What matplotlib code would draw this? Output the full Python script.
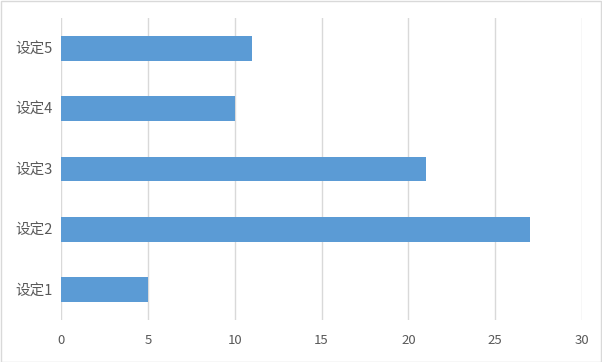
import matplotlib
matplotlib.use("Agg")
import matplotlib.pyplot as plt
from matplotlib.patches import Rectangle

plt.rcParams['font.family'] = ['Noto Sans CJK SC', 'DejaVu Sans']

categories = ['设定1', '设定2', '设定3', '设定4', '设定5']
values = [5, 27, 21, 10, 11]
xticks = [0, 5, 10, 15, 20, 25, 30]

W, H = 602, 362
fig = plt.figure(figsize=(W/100, H/100), dpi=100)
ax = fig.add_axes([61/W, (H-320)/H, (582-61)/W, (320-18)/H])

ax.barh(range(len(categories)), values, height=0.41, color='#5B9BD5', zorder=3)
ax.set_ylim(-0.5, len(categories)-0.5)
ax.set_xlim(0, 30)
ax.set_xticks(xticks)
ax.set_yticks(range(len(categories)))
ax.set_yticklabels(categories)
ax.grid(axis='x', color='#D9D9D9', linewidth=1, zorder=0)
for s in ax.spines.values():
    s.set_visible(False)
ax.tick_params(axis='y', length=0, labelsize=10.5, labelcolor='#595959', pad=6)
ax.tick_params(axis='x', length=0, labelsize=9.5, labelcolor='#595959', pad=10)

fig.patches.append(Rectangle((0.5/W, 0.5/H), (W-1.5)/W, (H-1.5)/H, transform=fig.transFigure,
                             fill=False, edgecolor='#D9D9D9', linewidth=1))

fig.savefig('out.png', dpi=100)
